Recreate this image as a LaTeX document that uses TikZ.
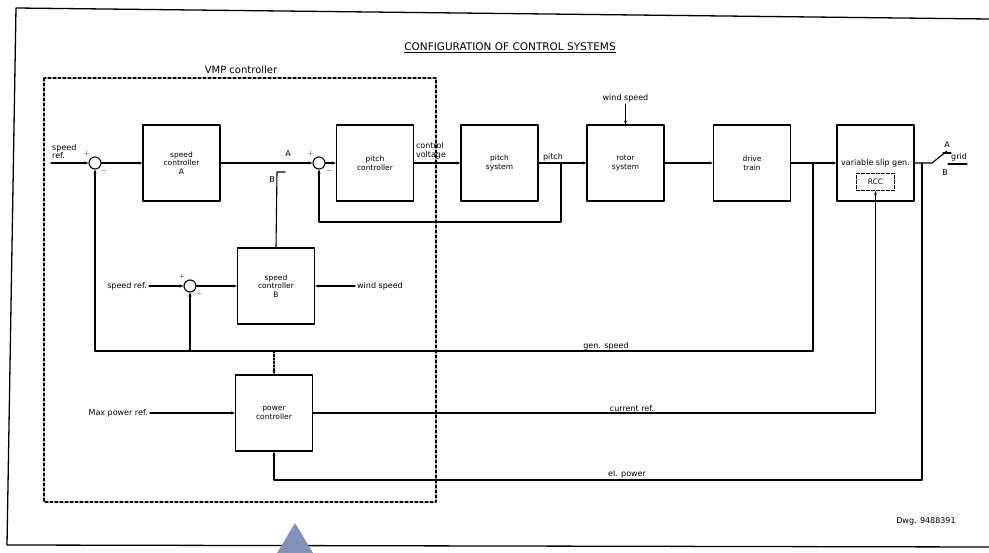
\documentclass[tikz,border=0pt]{standalone}
\usepackage{fontspec}
\setmainfont{DejaVu Sans}
\usetikzlibrary{arrows.meta}
\definecolor{markblue}{RGB}{128,146,184}

\begin{document}
\begin{tikzpicture}[x=1pt,y=-1pt,line cap=round,line join=round,
  block/.style={draw,line width=1.1pt,minimum width=77pt,minimum height=76pt,
    inner sep=0pt,align=center,font=\fontsize{7.5}{8.5}\selectfont},
  sumnode/.style={draw,circle,line width=1.1pt,minimum size=12pt,inner sep=0pt},
  lbl/.style={inner sep=2pt,align=center,font=\fontsize{8}{8.5}\selectfont},
  sgn/.style={inner sep=0pt,font=\fontsize{7}{7}\selectfont},
  wire/.style={line width=1.1pt},
  sig/.style={line width=1.1pt,-{Stealth[length=4pt,width=3pt]}}]

\useasboundingbox (0,0) rectangle (989,553);

% page frame and marker
\draw[line width=1.3pt] (989,19) -- (16,8) -- (7,545) -- (989,547);
\fill[markblue] (277,553) -- (295,523) -- (313,553) -- cycle;

% title
\node[font=\fontsize{10.5}{12}\selectfont] (title) at (510,48)
  {\underline{CONFIGURATION OF CONTROL SYSTEMS}};

% VMP controller (dashed frame)
\draw[line width=1.1pt,dash pattern=on 3pt off 2pt] (44,78) rectangle (436,502);
\node[lbl,font=\fontsize{10}{11}\selectfont] (vmp) at (241,70) {VMP controller};

% blocks, main row
\node[sumnode] (sum1) at (95,163) {};
\node[block] (spdA) at (181.5,163) {speed\\controller\\A};
\node[sumnode] (sum2) at (319,163) {};
\node[block] (pitchC) at (375,163) {pitch\\controller};
\node[block] (pitchS) at (499.5,163) {pitch\\system};
\node[block] (rotor) at (625.5,163) {rotor\\system};
\node[block] (drive) at (752,163) {drive\\train};
\node[block,font=\fontsize{8}{8.5}\selectfont] (gen) at (875.5,163) {variable slip gen.};
\node[draw,line width=1.1pt,dash pattern=on 3pt off 2pt,minimum width=38pt,
  minimum height=17pt,inner sep=0pt,font=\fontsize{7.5}{8}\selectfont] (rcc) at (875.5,182) {RCC};

% blocks, lower part
\node[sumnode] (sum3) at (190,286) {};
\node[block] (spdB) at (276,286) {speed\\controller\\B};
\node[block] (power) at (274,413) {power\\controller};

% coordinates
\coordinate (in1) at (51,163);
\coordinate (cB) at (277,172);
\coordinate (jp) at (561,163);
\coordinate (jd) at (813,163);
\coordinate (jgs) at (813,351);
\coordinate (jel) at (922,163);
\coordinate (jelb) at (922,480);
\coordinate (swpivot) at (932,163);
\coordinate (swtip) at (947,151);
\coordinate (contA) at (943,153);
\coordinate (contB) at (948,164);
\coordinate (grid) at (967,164);

% signal labels
\node[lbl,anchor=south west,align=left,inner sep=1pt] (sref1) at (51,160) {speed\\ref.};
\node[lbl,anchor=east] (sref2) at (149,286) {speed ref.};
\node[lbl,anchor=east] (maxp) at (150,413) {Max power ref.};
\node[lbl,anchor=west] (wind2) at (355,286) {wind speed};
\node[lbl] (wind1) at (625.5,98) {wind speed};
\node[lbl,align=left] at (431,151) {control\\voltage};
\node[lbl] at (553,157) {pitch};
\node[lbl] at (288,154) {A};
\node[lbl] at (272,180) {B};
\node[lbl] at (606,346) {gen. speed};
\node[lbl] at (632,409) {current ref.};
\node[lbl] at (627,474) {el. power};
\node[lbl] at (947,145) {A};
\node[lbl] at (945,173) {B};
\node[lbl] at (959,157) {grid};
\node[lbl] at (926,521) {Dwg. 9488391};

% signs at summing points
\node[sgn] at (87,154) {$+$};
\node[sgn] at (104,171) {$-$};
\node[sgn] at (311,154) {$+$};
\node[sgn] at (329,171) {$-$};
\node[sgn] at (182,277) {$+$};
\node[sgn] at (199,294) {$-$};

% main chain
\draw[sig] (in1) -- (sum1);
\draw[sig] (sum1) -- (spdA);
\draw[sig] (spdA) -- (sum2);
\draw[sig] (sum2) -- (pitchC);
\draw[sig] (pitchC) -- (pitchS);
\draw[sig] (pitchS) -- (rotor);
\draw[sig] (rotor) -- (drive);
\draw[sig] (drive) -- (gen);
\draw[sig] (wind1) -- (rotor);

% pitch feedback
\draw[sig] (jp) -- ++(0,59) -| (sum2.south);

% gen. speed feedback
\draw[sig] (jd) -- (jgs) -| (sum1.south);
\draw[sig] (sum3 |- jgs) -- (sum3.south);
\draw[sig,dash pattern=on 2pt off 1.5pt] (power |- jgs) -- (power.north);

% speed controller B
\draw[sig] (sref2) -- (sum3);
\draw[sig] (sum3) -- (spdB);
\draw[sig] (wind2) -- (spdB);
\draw[wire] (spdB.north) -- (cB) -- ++(8,0);

% power controller
\draw[sig] (maxp) -- (power);
\draw[sig] (power.east) -| (rcc.south);
\draw[sig] (jel) -- (jelb) -| (power.south);

% switch to grid
\draw[wire] (gen.east) -- (swpivot) -- (swtip);
\draw[wire] (contA) -- ++(8,0);
\draw[wire] (contB) -- (grid);

\end{tikzpicture}
\end{document}
